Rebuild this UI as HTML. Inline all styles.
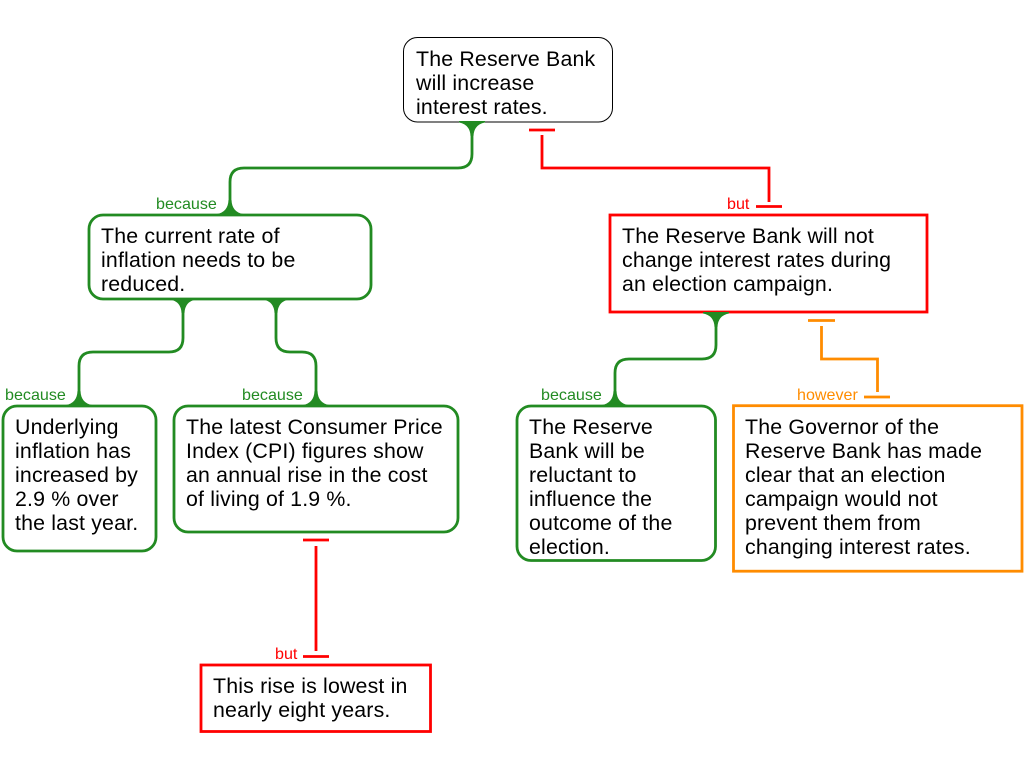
<!DOCTYPE html>
<html><head><meta charset="utf-8"><style>
html,body{margin:0;padding:0;background:#fff;width:1024px;height:768px;overflow:hidden}
svg{display:block}
text{font-family:"Liberation Sans",sans-serif}
.t{font-size:21.33px;letter-spacing:.17px;fill:#000}
.l{font-size:16.1px}
.g{fill:none;stroke:#228b22;stroke-width:2.8}
.r{fill:none;stroke:#f00;stroke-width:2.8}
.o{fill:none;stroke:#ff8c00;stroke-width:2.8}
.f{fill:#228b22}
</style></head><body>
<svg width="1024" height="768" viewBox="0 0 1024 768" xmlns="http://www.w3.org/2000/svg">
<rect x="403.500" y="37.500" width="209" height="84.500" rx="14" fill="#fff" stroke="#000" stroke-width="1"/>
<rect x="89" y="215" width="282" height="84" rx="14" class="g" style="fill:#fff"/>
<rect x="610" y="215" width="317" height="97" class="r" style="fill:#fff"/>
<rect x="3" y="406" width="153" height="145" rx="14" class="g" style="fill:#fff"/>
<rect x="174" y="406" width="284" height="126" rx="14" class="g" style="fill:#fff"/>
<rect x="201" y="665" width="229.500" height="66.500" class="r" style="fill:#fff"/>
<rect x="517" y="406" width="198.500" height="154.500" rx="14" class="g" style="fill:#fff"/>
<rect x="733.500" y="405.700" width="288.500" height="165.500" class="o" style="fill:#fff"/>

<path class="g" d="M472 122V154Q472 168 458 168H244Q230 168 230 182V214"/>
<path class="g" d="M183 299V338Q183 352 169 352H93Q79 352 79 366V405"/>
<path class="g" d="M276 299V338Q276 352 290 352H302Q316 352 316 366V405"/>
<path class="g" d="M716 313V345Q716 359 702 359H629Q615 359 615 373V405"/>

<path class="f" d="M459 121H485V122.500Q474 124.500 473.500 136H470.500Q470 124.500 459 122.500Z"/>
<path class="f" d="M170 298H196V299.500Q185 301.500 184.500 313H181.500Q181 301.500 170 299.500Z"/>
<path class="f" d="M263 298H289V299.500Q278 301.500 277.500 313H274.500Q274 301.500 263 299.500Z"/>
<path class="f" d="M703 312H729V313.500Q718 315.500 717.500 327H714.500Q714 315.500 703 313.500Z"/>
<path class="f" d="M217 215.500H243V214Q232 212 231.500 200H228.500Q228 212 217 214Z"/>
<path class="f" d="M66 406.500H92V405Q81 403 80.500 391H77.500Q77 403 66 405Z"/>
<path class="f" d="M303 406.500H329V405Q318 403 317.500 391H314.500Q314 403 303 405Z"/>
<path class="f" d="M602 406.500H628V405Q617 403 616.500 391H613.500Q613 403 602 405Z"/>

<path class="r" d="M529 130H555M542 135V168H769V202M756 206.500H782"/>
<path class="r" d="M303 540H329M316 546V651M303 656.500H329"/>
<path class="o" d="M808 320.500H835M821.500 326V359H877.500V392M864 397H890"/>

<text class="l" x="156" y="209" fill="#228b22">because</text>
<text class="l" x="5" y="400" fill="#228b22">because</text>
<text class="l" x="242" y="400" fill="#228b22">because</text>
<text class="l" x="541" y="400" fill="#228b22">because</text>
<text class="l" x="727" y="209" fill="#f00">but</text>
<text class="l" x="275" y="659" fill="#f00">but</text>
<text class="l" x="797" y="400" fill="#ff8c00">however</text>

<text class="t" x="416" y="66">The Reserve Bank</text>
<text class="t" x="416" y="90">will increase</text>
<text class="t" x="416" y="114">interest rates.</text>

<text class="t" x="101" y="243">The current rate of</text>
<text class="t" x="101" y="267">inflation needs to be</text>
<text class="t" x="101" y="291">reduced.</text>

<text class="t" x="622" y="243">The Reserve Bank will not</text>
<text class="t" x="622" y="267">change interest rates during</text>
<text class="t" x="622" y="291">an election campaign.</text>

<text class="t" x="15" y="434">Underlying</text>
<text class="t" x="15" y="458">inflation has</text>
<text class="t" x="15" y="482">increased by</text>
<text class="t" x="15" y="506">2.9 % over</text>
<text class="t" x="15" y="530">the last year.</text>

<text class="t" x="186" y="434">The latest Consumer Price</text>
<text class="t" x="186" y="458">Index (CPI) figures show</text>
<text class="t" x="186" y="482">an annual rise in the cost</text>
<text class="t" x="186" y="506">of living of 1.9 %.</text>

<text class="t" x="213" y="693">This rise is lowest in</text>
<text class="t" x="213" y="717">nearly eight years.</text>

<text class="t" x="529" y="434">The Reserve</text>
<text class="t" x="529" y="458">Bank will be</text>
<text class="t" x="529" y="482">reluctant to</text>
<text class="t" x="529" y="506">influence the</text>
<text class="t" x="529" y="530">outcome of the</text>
<text class="t" x="529" y="554">election.</text>

<text class="t" x="745" y="434">The Governor of the</text>
<text class="t" x="745" y="458">Reserve Bank has made</text>
<text class="t" x="745" y="482">clear that an election</text>
<text class="t" x="745" y="506">campaign would not</text>
<text class="t" x="745" y="530">prevent them from</text>
<text class="t" x="745" y="554">changing interest rates.</text>
</svg>
</body></html>
